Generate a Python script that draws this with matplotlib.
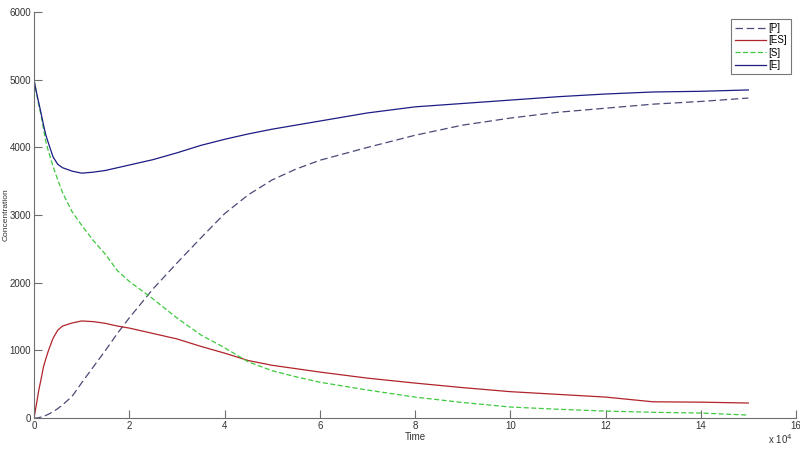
import matplotlib
matplotlib.use("Agg")
import matplotlib.pyplot as plt
from matplotlib.ticker import FuncFormatter

plt.rcParams['font.family'] = ['Liberation Sans', 'DejaVu Sans']

# time points (in units of 1e4)
t = [0, 0.05, 0.1, 0.15, 0.2, 0.25, 0.3, 0.4, 0.5, 0.6, 0.8, 1.0, 1.25, 1.5, 1.75,
     2.0, 2.5, 3.0, 3.5, 4.0, 4.5, 5, 5.5, 6, 7, 8, 9, 10, 11, 12, 13, 14, 15]

# product [P]
p = [0, 0, 5, 15, 25, 40, 55, 95, 140, 195, 320, 520, 760, 1000, 1250,
     1480, 1910, 2290, 2660, 3020, 3300, 3520, 3680, 3810, 4000, 4180, 4330,
     4434, 4520, 4580, 4640, 4680, 4730]

# complex [ES]
es = [0, 200, 410, 580, 760, 880, 990, 1180, 1300, 1360, 1405, 1435, 1425, 1400, 1360,
      1330, 1250, 1170, 1060, 960, 850, 780, 730, 680, 590, 517, 450,
      390, 350, 310, 240, 235, 222]

# substrate [S]
s = [5000, 4810, 4630, 4470, 4270, 4080, 3950, 3720, 3520, 3330, 3050, 2850, 2620, 2420, 2180,
     2020, 1760, 1480, 1230, 1040, 830, 700, 610, 530, 414, 310, 230,
     163, 130, 103, 85, 74, 44]

# enzyme [E]
e = [5000, 4820, 4660, 4500, 4330, 4180, 4070, 3860, 3750, 3700, 3650, 3620, 3635, 3660, 3700,
     3740, 3820, 3920, 4030, 4120, 4200, 4270, 4330, 4390, 4510, 4600, 4650,
     4700, 4750, 4790, 4820, 4830, 4850]

time = [v * 1e4 for v in t]

fig = plt.figure(figsize=(8, 4.5), dpi=100)
ax = fig.add_axes([0.0425, 0.071, 0.9525, 0.902])

ax.plot(time, p, color='#4a4a78', lw=0.9, linestyle=(0, (6, 3)), label='[P]')
ax.plot(time, es, color='#b0242a', lw=0.9, label='[ES]')
ax.plot(time, s, color='#3ec83e', lw=0.9, linestyle=(0, (4, 2)), label='[S]')
ax.plot(time, e, color='#1c1c86', lw=0.9, label='[E]')

ax.set_xlim(0, 160000)
ax.set_ylim(0, 6000)
ax.set_xticks([i * 20000 for i in range(9)])
ax.set_yticks([0, 1000, 2000, 3000, 4000, 5000, 6000])
ax.xaxis.set_major_formatter(FuncFormatter(lambda v, pos: '%g' % (v / 1e4)))

for side in ['top', 'right']:
    ax.spines[side].set_visible(False)
for side in ['left', 'bottom']:
    ax.spines[side].set_color('#6e6e6e')
ax.tick_params(direction='in', length=6, width=0.8, color='#6e6e6e',
               labelsize=7, labelcolor='#333333', pad=2)

ax.set_xlabel('Time', fontsize=7, color='#333333', labelpad=1)
ax.set_ylabel('Concentration', fontsize=6, color='#333333')
ax.yaxis.set_label_coords(-0.032, 0.5)
ax.text(0.995, -0.052, 'x 10$^4$', transform=ax.transAxes, ha='right', va='center',
        fontsize=7, color='#333333')

leg = ax.legend(loc='upper right', bbox_to_anchor=(1.0, 0.995), fontsize=7,
                frameon=True, fancybox=False, handlelength=3.2, handletextpad=0.3,
                labelspacing=0.25, borderpad=0.4)
leg.get_frame().set_edgecolor('#555555')
leg.get_frame().set_linewidth(0.8)

fig.savefig('out.png', dpi=100)
